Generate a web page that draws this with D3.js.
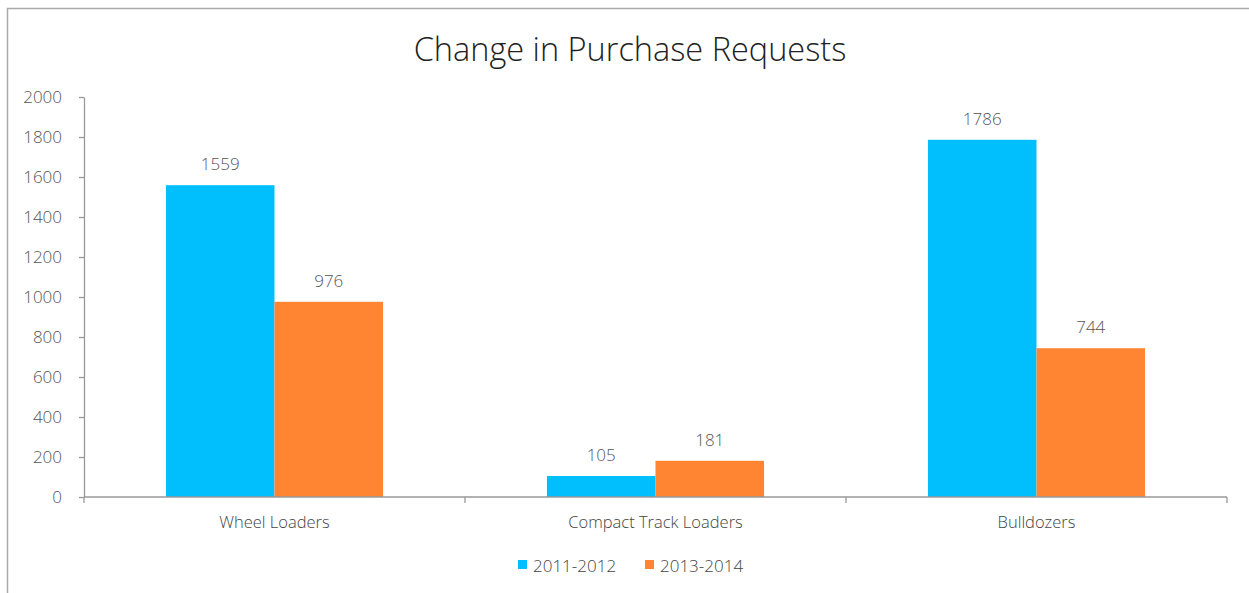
<!DOCTYPE html>
<html><head><meta charset="utf-8">
<script src="https://cdn.jsdelivr.net/npm/d3@7"></script>
<style>body{margin:0;background:#fff;} svg{display:block;} svg text{font-family:"Open Sans","Helvetica Neue",Arial,sans-serif;font-weight:300;}</style>
</head><body>
<svg id="c" width="1249" height="593"></svg>
<script>
const categories = ["Wheel Loaders", "Compact Track Loaders", "Bulldozers"];
const seriesNames = ["2011-2012", "2013-2014"];
const values2011 = [1559, 105, 1786];
const values2013 = [976, 181, 744];
const yTicks = [0, 200, 400, 600, 800, 1000, 1200, 1400, 1600, 1800, 2000];
const colors = ["#00BFFC", "#FF8533"];

const svg = d3.select("#c");
const W = 1249, H = 593;
const m = {left: 84, right: 22, top: 97, bottom: 96};
const plotW = W - m.left - m.right, plotH = H - m.top - m.bottom;

// frame
svg.append("rect").attr("x", 7.5).attr("y", 8.5).attr("width", 1260).attr("height", 600)
  .attr("fill", "none").attr("stroke", "#aaa").attr("stroke-width", 1.5);

svg.append("text").attr("x", 630).attr("y", 61).attr("text-anchor", "middle")
  .attr("font-size", 32.5).attr("fill", "#222").text("Change in Purchase Requests");

const x0 = d3.scaleBand().domain(categories).range([m.left, m.left + plotW]).paddingInner(0).paddingOuter(0);
const x1 = d3.scaleBand().domain(seriesNames).range([0, x0.bandwidth()]).paddingInner(0).paddingOuter(0.755);
const y = d3.scaleLinear().domain([0, 2000]).range([m.top + plotH, m.top]);

const data = categories.map((c, i) => ({cat: c, vals: [values2011[i], values2013[i]]}));

const g = svg.append("g");
data.forEach(d => {
  d.vals.forEach((v, j) => {
    const bx = x0(d.cat) + x1(seriesNames[j]);
    g.append("rect").attr("x", bx).attr("y", y(v)).attr("width", x1.bandwidth())
      .attr("height", y(0) - y(v)).attr("fill", colors[j]);
    g.append("text").attr("x", bx + x1.bandwidth() / 2).attr("y", y(v) - 15)
      .attr("text-anchor", "middle").attr("font-size", 17).attr("fill", "#555").text(v);
  });
});

// y axis
const yAxis = d3.axisLeft(y).tickValues(yTicks).tickFormat(d3.format("d")).tickSize(5).tickSizeOuter(0).tickPadding(17);
const ya = svg.append("g").attr("transform", `translate(${m.left},0)`).call(yAxis);
ya.attr("font-family", null).attr("font-size", null);
ya.selectAll("text").attr("font-size", 17).attr("fill", "#555");
ya.selectAll("line, path").attr("stroke", "#999").attr("stroke-width", 1.3);

// x axis
const xa = svg.append("g").attr("transform", `translate(0,${y(0)})`);
xa.append("line").attr("x1", m.left).attr("x2", m.left + plotW).attr("stroke", "#999").attr("stroke-width", 1.3);
const bounds = [m.left].concat(categories.map(c => x0(c) + x0.bandwidth()));
bounds.forEach(b => xa.append("line").attr("x1", b).attr("x2", b).attr("y1", 0).attr("y2", 6).attr("stroke", "#999").attr("stroke-width", 1.3));
categories.forEach(c => xa.append("text").attr("x", x0(c) + x0.bandwidth() / 2).attr("y", 31)
  .attr("text-anchor", "middle").attr("font-size", 16.5).attr("fill", "#444").text(c));

// legend
const lg = svg.append("g");
const legX = [518, 645];
seriesNames.forEach((s, j) => {
  lg.append("rect").attr("x", legX[j]).attr("y", 560).attr("width", 9).attr("height", 9).attr("fill", colors[j]);
  lg.append("text").attr("x", legX[j] + 15).attr("y", 572).attr("font-size", 17).attr("fill", "#444").text(s);
});
</script>
</body></html>
